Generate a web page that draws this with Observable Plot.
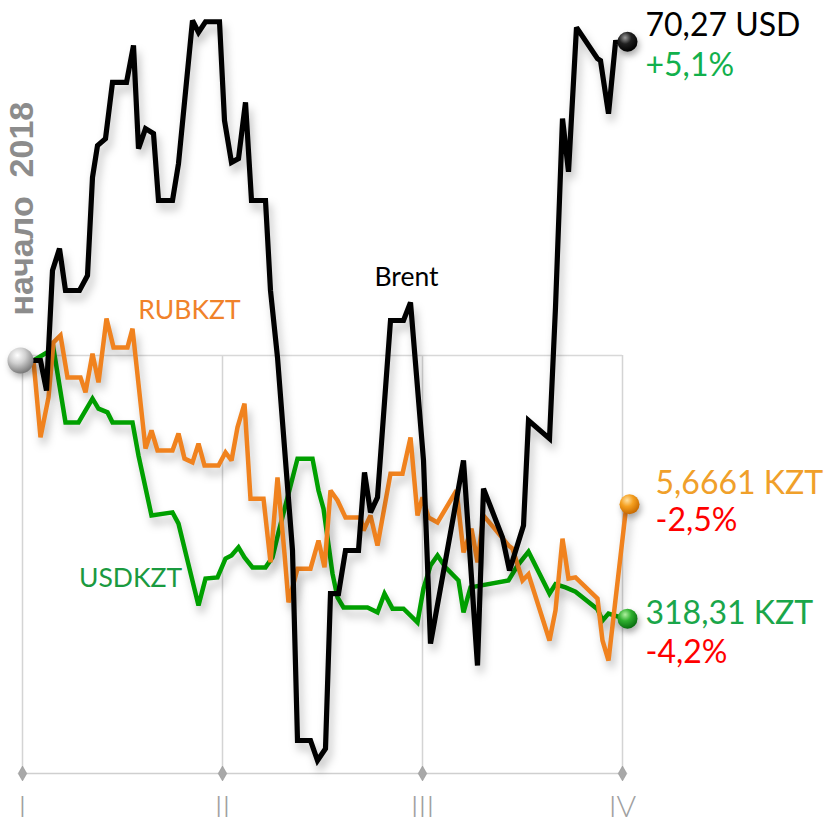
<!DOCTYPE html>
<html>
<head>
<meta charset="utf-8">
<script src="https://cdn.jsdelivr.net/npm/d3@7"></script>
<script src="https://cdn.jsdelivr.net/npm/@observablehq/plot@0.6"></script>
<style>
  html, body { margin: 0; padding: 0; background: #fff; }
  #chart svg { display: block; font-family: Lato, "Open Sans", sans-serif; }
  #chart g[aria-label="line"] { filter: drop-shadow(3px 7px 4px rgba(0,0,0,0.25)); }
  #chart g[aria-label="dot"].balls { filter: drop-shadow(2px 4px 3px rgba(0,0,0,0.3)); }
</style>
</head>
<body>
<div id="chart"></div>
<script>
// ---- data: change since start of 2018, % ; x = quarters since start of year ----
const quarterTicks = [0, 1, 2, 3];
const quarterLabels = ["I", "II", "III", "IV"];

const brentX = [0.055,0.09,0.12,0.15,0.185,0.215,0.285,0.325,0.35,0.375,0.415,0.45,0.52,0.555,0.58,0.615,0.655,0.68,0.75,0.78,0.85,0.88,0.915,0.985,1.01,1.045,1.08,1.115,1.145,1.215,1.24,1.275,1.35,1.375,1.44,1.475,1.515,1.54,1.58,1.615,1.68,1.71,1.74,1.775,1.84,1.905,1.94,2.005,2.04,2.205,2.275,2.305,2.4,2.435,2.505,2.53,2.635,2.665,2.7,2.73,2.77,2.875,2.89,2.93,2.965,3.01];
const brentY = [0,0,-0.48,1.44,1.79,1.12,1.12,1.36,2.93,3.44,3.55,4.45,4.45,5.04,3.39,3.71,3.63,2.56,2.56,3.15,5.44,5.25,5.42,5.42,3.84,3.17,3.23,4.13,2.56,2.56,1.12,0.05,-3.04,-6.08,-6.08,-6.4,-6.21,-3.73,-3.73,-3.04,-3.04,-1.79,-2.43,-2.19,0.64,0.64,0.93,-1.6,-4.53,-1.6,-4.88,-2.05,-2.83,-3.36,-2.64,-0.96,-1.25,0.85,3.87,3.02,5.33,4.83,4.8,3.95,5.09,5.1];

const rubX = [0.055,0.09,0.13,0.155,0.19,0.225,0.29,0.315,0.35,0.38,0.42,0.455,0.525,0.55,0.615,0.645,0.675,0.75,0.78,0.81,0.85,0.88,0.91,0.98,1.015,1.045,1.075,1.11,1.14,1.205,1.24,1.275,1.31,1.33,1.375,1.44,1.48,1.51,1.54,1.575,1.615,1.69,1.705,1.74,1.775,1.84,1.9,1.94,1.975,2.0,2.03,2.075,2.17,2.205,2.245,2.275,2.305,2.355,2.43,2.45,2.5,2.53,2.635,2.665,2.7,2.73,2.765,2.875,2.9,2.93,3.02];
const rubY = [0,-1.23,-0.59,0.29,0.4,-0.27,-0.27,-0.51,0.11,-0.35,0.67,0.21,0.21,0.51,-1.41,-1.12,-1.44,-1.44,-1.17,-1.57,-1.63,-1.33,-1.68,-1.68,-1.47,-1.6,-1.07,-0.69,-2.21,-2.21,-3.23,-1.87,-3.09,-3.87,-3.33,-3.33,-2.88,-3.31,-2.08,-2.24,-2.51,-2.51,-2.72,-2.48,-2.96,-1.81,-1.81,-1.23,-2.48,-2.19,-2.51,-2.59,-2.08,-3.07,-2.69,-3.23,-2.48,-2.67,-2.96,-3.01,-3.52,-3.42,-4.48,-4.0,-2.85,-3.49,-3.47,-3.81,-4.48,-4.8,-2.3];

const usdX = [0.055,0.155,0.215,0.28,0.35,0.38,0.425,0.45,0.55,0.58,0.645,0.75,0.78,0.825,0.88,0.915,0.975,1.015,1.045,1.08,1.11,1.15,1.215,1.25,1.28,1.33,1.375,1.45,1.48,1.505,1.55,1.575,1.605,1.725,1.775,1.81,1.85,1.905,1.975,2.005,2.04,2.075,2.115,2.18,2.205,2.24,2.43,2.475,2.53,2.635,2.665,2.715,2.765,2.875,2.9,2.93,3.01];
const usdY = [0,0.19,-0.99,-0.99,-0.61,-0.77,-0.83,-0.99,-0.99,-1.52,-2.48,-2.43,-2.61,-3.2,-3.92,-3.49,-3.47,-3.17,-3.12,-2.99,-3.15,-3.31,-3.31,-3.15,-2.75,-2.13,-1.57,-1.57,-2.08,-2.37,-3.41,-3.79,-3.95,-3.95,-4.03,-3.73,-3.97,-3.97,-4.19,-3.65,-3.28,-3.12,-3.31,-3.52,-4.03,-3.63,-3.52,-3.28,-3.06,-3.73,-3.58,-3.63,-3.7,-3.98,-4.16,-4.05,-4.13];

const seriesNames = ["USDKZT", "RUBKZT", "Brent"];
const seriesColors = ["#00a000", "#f0821e", "#000000"];
const ballFills = ["url(#ballGreen)", "url(#ballOrange)", "url(#ballBlack)"];

// end labels
const endValues = ["318,31 KZT", "5,6661 KZT", "70,27 USD"];
const endChanges = ["-4,2%", "-2,5%", "+5,1%"];
const endValueColors = ["#1aa64a", "#f0a02a", "#000000"];
const endChangeColors = ["#ff0000", "#ff0000", "#12b04c"];
const endLabelX = [3.115, 3.165, 3.115];
const endValueY = [-4.05, -1.97, 5.36];
const endChangeY = [-4.67, -2.56, 4.72];

// series name labels
const nameLabels = ["USDKZT", "RUBKZT", "Brent"];
const nameX = [0.54, 0.835, 1.92];
const nameY = [-3.49, 0.8, 1.33];
const nameColors = ["#1a9a40", "#f0822a", "#000000"];

const startLabel = "начало  2018";
const yMin = -6.608, yMax = 5.76, gridTop = 0.08;

// ---- build tables ----
const xs = [usdX, rubX, brentX], ys = [usdY, rubY, brentY];
const rows = [];
seriesNames.forEach((s, k) => xs[k].forEach((x, i) => rows.push({series: s, x, y: ys[k][i], k})));
const ends = seriesNames.map((s, k) => ({series: s, x: xs[k][xs[k].length - 1], y: ys[k][ys[k].length - 1], k}));
const start = [{x: -0.01, y: 0}];

const lineMark = (k, w) => Plot.line(rows.filter(d => d.k === k), {
  x: "x", y: "y", stroke: seriesColors[k], strokeWidth: w,
  strokeLinejoin: "miter", strokeMiterlimit: 2.5
});

const chart = Plot.plot({
  width: 826, height: 822,
  marginLeft: 22, marginRight: 204, marginTop: 0, marginBottom: 49,
  x: {domain: [0, 3], axis: null},
  y: {domain: [yMin, yMax], axis: null},
  style: {fontFamily: "Lato, 'Open Sans', sans-serif", background: "#fff"},
  marks: [
    // grid box
    Plot.ruleX(quarterTicks, {x: d => d, y1: yMin, y2: gridTop, stroke: "#d4d4d4", strokeWidth: 1.5}),
    Plot.ruleY([gridTop], {x1: 0, x2: 3, y: d => d, stroke: "#d8d8d8", strokeWidth: 1.5}),
    Plot.ruleY([yMin], {x1: 0, x2: 3, y: d => d, stroke: "#cfcfcf", strokeWidth: 1.5}),
    Plot.dot(quarterTicks, {x: d => d, y: yMin, symbol: "diamond", r: 4.5, fill: "#a8a8a8", stroke: "#909090", strokeWidth: 0.5}),
    Plot.text(quarterTicks, {x: d => d, y: yMin, dy: 34, text: (d, i) => quarterLabels[i], fontSize: 30, fontWeight: 300, fill: "#a0a0a0"}),
    // lines
    lineMark(0, 4.5),
    lineMark(1, 4.5),
    lineMark(2, 5.2),
    // balls
    Plot.dot(start, {x: "x", y: "y", r: 13, fill: "url(#ballGrey)", className: "balls"}),
    Plot.dot(ends, {x: "x", y: "y", dx: 3, r: 10, fill: d => ballFills[d.k], className: "balls"}),
    // series names
    Plot.text(nameLabels, {x: (d, i) => nameX[i], y: (d, i) => nameY[i], text: d => d, fill: (d, i) => nameColors[i], fontSize: 26.5}),
    // end labels
    Plot.text(endValues, {x: (d, i) => endLabelX[i], y: (d, i) => endValueY[i], text: d => d, fill: (d, i) => endValueColors[i], textAnchor: "start", fontSize: 32}),
    Plot.text(endChanges, {x: (d, i) => endLabelX[i], y: (d, i) => endChangeY[i], text: d => d, fill: (d, i) => endChangeColors[i], textAnchor: "start", fontSize: 32}),
    // rotated start label
    Plot.text([startLabel], {x: 0, y: 2.43, text: d => d, rotate: -90, fill: "#8c8c8c", fontSize: 34, fontWeight: "bold", fontFamily: "'Liberation Sans', Arial, sans-serif"})
  ]
});

const defs = d3.select(chart).insert("defs", ":first-child");
const grads = [
  ["ballGrey", "#ffffff", "#d0d0d0", "#7a7a7a"],
  ["ballBlack", "#9a9a9a", "#202020", "#000000"],
  ["ballOrange", "#ffe0a0", "#f5a020", "#c86a00"],
  ["ballGreen", "#b0f0a0", "#30b030", "#0a7010"]
];
grads.forEach(([id, c0, c1, c2]) => {
  const g = defs.append("radialGradient").attr("id", id).attr("cx", "38%").attr("cy", "30%").attr("r", "70%");
  g.append("stop").attr("offset", "0%").attr("stop-color", c0);
  g.append("stop").attr("offset", "45%").attr("stop-color", c1);
  g.append("stop").attr("offset", "100%").attr("stop-color", c2);
});
document.getElementById("chart").append(chart);
</script>
</body>
</html>
